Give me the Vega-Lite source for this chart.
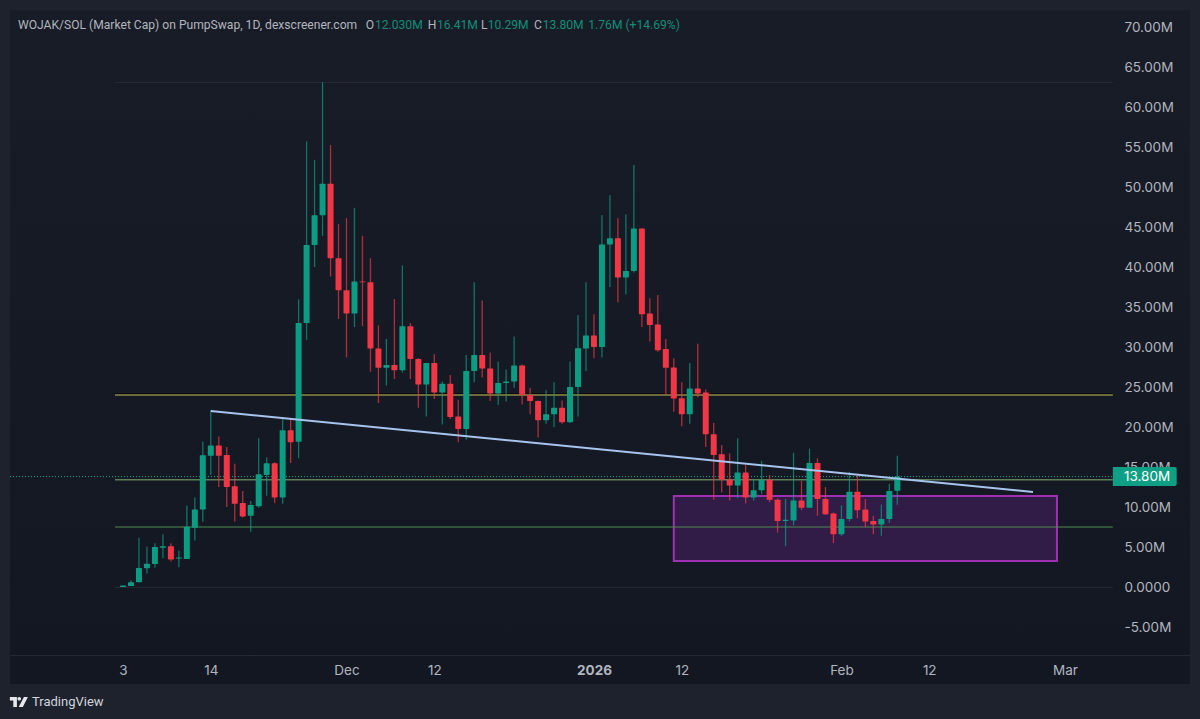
{
  "$schema": "https://vega.github.io/schema/vega-lite/v6.json",
  "autosize": "none",
  "width": 1180,
  "height": 674,
  "padding": {"left": 10, "top": 10, "right": 10, "bottom": 35},
  "background": "#1e222d",
  "view": {"stroke": null, "fill": {"gradient": "linear", "x1": 0, "y1": 0, "x2": 0, "y2": 1, "stops": [{"offset": 0, "color": "#181c27"}, {"offset": 1, "color": "#131722"}]}},
  "config": {"font": "Inter"},
  "resolve": {"scale": {"color": "independent"}},
  "datasets": {
    "candles": [
      {"d":"2025-11-03","o":0.0,"h":0.2,"l":0.0,"c":0.2},
      {"d":"2025-11-04","o":0.13,"h":0.83,"l":0.13,"c":0.59},
      {"d":"2025-11-05","o":0.59,"h":6.17,"l":0.59,"c":2.38},
      {"d":"2025-11-06","o":2.34,"h":5.04,"l":1.7,"c":2.9},
      {"d":"2025-11-07","o":2.88,"h":5.46,"l":2.4,"c":5.0},
      {"d":"2025-11-08","o":4.9,"h":6.6,"l":3.6,"c":5.1},
      {"d":"2025-11-09","o":5.1,"h":5.46,"l":3.2,"c":3.45},
      {"d":"2025-11-10","o":3.55,"h":4.54,"l":2.46,"c":3.7},
      {"d":"2025-11-11","o":3.5,"h":10.2,"l":3.5,"c":7.54},
      {"d":"2025-11-12","o":7.4,"h":11.2,"l":5.8,"c":9.7},
      {"d":"2025-11-13","o":9.7,"h":18.2,"l":8.16,"c":16.46},
      {"d":"2025-11-14","o":16.4,"h":22.1,"l":14.0,"c":17.7},
      {"d":"2025-11-15","o":17.7,"h":18.8,"l":12.5,"c":16.4},
      {"d":"2025-11-16","o":16.5,"h":17.5,"l":10.0,"c":12.5},
      {"d":"2025-11-17","o":12.6,"h":15.4,"l":8.2,"c":10.4},
      {"d":"2025-11-18","o":10.5,"h":12.0,"l":8.7,"c":8.8},
      {"d":"2025-11-19","o":8.9,"h":10.75,"l":6.9,"c":10.25},
      {"d":"2025-11-20","o":10.1,"h":18.6,"l":9.9,"c":14.1},
      {"d":"2025-11-21","o":14.0,"h":16.2,"l":11.4,"c":15.46},
      {"d":"2025-11-22","o":15.46,"h":15.6,"l":10.46,"c":11.2},
      {"d":"2025-11-23","o":11.2,"h":21.0,"l":10.4,"c":19.6},
      {"d":"2025-11-24","o":19.6,"h":21.1,"l":15.5,"c":18.1},
      {"d":"2025-11-25","o":18.16,"h":35.96,"l":16.1,"c":33.0},
      {"d":"2025-11-26","o":33.0,"h":55.7,"l":30.9,"c":42.75},
      {"d":"2025-11-27","o":42.75,"h":53.4,"l":40.0,"c":46.46},
      {"d":"2025-11-28","o":46.46,"h":63.1,"l":43.9,"c":50.4},
      {"d":"2025-11-29","o":50.4,"h":55.25,"l":38.8,"c":41.1},
      {"d":"2025-11-30","o":41.1,"h":45.4,"l":33.5,"c":37.1},
      {"d":"2025-12-01","o":37.1,"h":46.1,"l":28.7,"c":34.2},
      {"d":"2025-12-02","o":34.2,"h":47.4,"l":32.5,"c":38.2},
      {"d":"2025-12-03","o":38.2,"h":43.9,"l":32.6,"c":38.1},
      {"d":"2025-12-04","o":38.1,"h":41.1,"l":26.9,"c":29.8},
      {"d":"2025-12-05","o":29.8,"h":32.7,"l":23.0,"c":27.4},
      {"d":"2025-12-06","o":27.4,"h":31.0,"l":25.2,"c":27.75},
      {"d":"2025-12-07","o":27.75,"h":36.0,"l":26.0,"c":27.1},
      {"d":"2025-12-08","o":27.1,"h":40.2,"l":26.8,"c":32.6},
      {"d":"2025-12-09","o":32.6,"h":33.0,"l":26.0,"c":28.5},
      {"d":"2025-12-10","o":28.5,"h":28.6,"l":22.4,"c":25.3},
      {"d":"2025-12-11","o":25.3,"h":28.0,"l":21.3,"c":28.0},
      {"d":"2025-12-12","o":28.0,"h":29.1,"l":23.5,"c":24.3},
      {"d":"2025-12-13","o":24.3,"h":25.7,"l":20.3,"c":25.4},
      {"d":"2025-12-14","o":25.4,"h":26.5,"l":21.0,"c":21.25},
      {"d":"2025-12-15","o":21.3,"h":23.4,"l":18.1,"c":19.75},
      {"d":"2025-12-16","o":19.75,"h":29.0,"l":18.4,"c":27.0},
      {"d":"2025-12-17","o":27.0,"h":38.1,"l":25.6,"c":29.0},
      {"d":"2025-12-18","o":29.0,"h":35.8,"l":26.2,"c":27.3},
      {"d":"2025-12-19","o":27.3,"h":29.3,"l":23.25,"c":24.2},
      {"d":"2025-12-20","o":24.2,"h":28.2,"l":22.75,"c":25.5},
      {"d":"2025-12-21","o":25.5,"h":27.2,"l":23.2,"c":25.7},
      {"d":"2025-12-22","o":25.7,"h":31.3,"l":24.9,"c":27.7},
      {"d":"2025-12-23","o":27.7,"h":27.8,"l":22.8,"c":24.0},
      {"d":"2025-12-24","o":24.0,"h":24.9,"l":21.6,"c":23.25},
      {"d":"2025-12-25","o":23.25,"h":23.3,"l":18.7,"c":20.85},
      {"d":"2025-12-26","o":20.85,"h":24.6,"l":20.4,"c":21.6},
      {"d":"2025-12-27","o":21.6,"h":25.6,"l":20.0,"c":22.4},
      {"d":"2025-12-28","o":22.4,"h":23.3,"l":20.4,"c":20.6},
      {"d":"2025-12-29","o":20.6,"h":28.2,"l":20.5,"c":25.0},
      {"d":"2025-12-30","o":25.0,"h":34.0,"l":21.3,"c":29.85},
      {"d":"2025-12-31","o":29.8,"h":38.1,"l":27.0,"c":31.45},
      {"d":"2026-01-01","o":31.45,"h":34.1,"l":28.6,"c":30.0},
      {"d":"2026-01-02","o":30.0,"h":46.5,"l":28.7,"c":42.8},
      {"d":"2026-01-03","o":42.8,"h":49.0,"l":37.5,"c":43.6},
      {"d":"2026-01-04","o":43.6,"h":46.1,"l":35.6,"c":38.7},
      {"d":"2026-01-05","o":38.7,"h":46.6,"l":36.6,"c":39.5},
      {"d":"2026-01-06","o":39.5,"h":52.75,"l":39.3,"c":44.8},
      {"d":"2026-01-07","o":44.8,"h":44.8,"l":32.5,"c":34.1},
      {"d":"2026-01-08","o":34.2,"h":36.1,"l":30.7,"c":32.75},
      {"d":"2026-01-09","o":32.8,"h":36.5,"l":29.4,"c":29.6},
      {"d":"2026-01-10","o":29.75,"h":31.0,"l":24.0,"c":27.4},
      {"d":"2026-01-11","o":27.45,"h":28.6,"l":21.9,"c":23.55},
      {"d":"2026-01-12","o":23.6,"h":25.6,"l":20.1,"c":21.6},
      {"d":"2026-01-13","o":21.6,"h":28.0,"l":20.4,"c":24.8},
      {"d":"2026-01-14","o":24.8,"h":30.4,"l":23.7,"c":24.2},
      {"d":"2026-01-15","o":24.3,"h":24.7,"l":17.5,"c":19.1},
      {"d":"2026-01-16","o":19.1,"h":20.5,"l":10.9,"c":16.5},
      {"d":"2026-01-17","o":16.6,"h":17.75,"l":11.8,"c":13.4},
      {"d":"2026-01-18","o":13.4,"h":16.7,"l":10.8,"c":12.7},
      {"d":"2026-01-19","o":12.7,"h":18.6,"l":11.1,"c":14.3},
      {"d":"2026-01-20","o":14.3,"h":15.25,"l":10.45,"c":11.2},
      {"d":"2026-01-21","o":11.2,"h":13.4,"l":10.8,"c":12.1},
      {"d":"2026-01-22","o":12.1,"h":15.8,"l":11.6,"c":13.4},
      {"d":"2026-01-23","o":13.4,"h":14.0,"l":10.6,"c":10.9},
      {"d":"2026-01-24","o":10.9,"h":11.1,"l":6.8,"c":8.25},
      {"d":"2026-01-25","o":8.25,"h":11.0,"l":5.1,"c":8.4},
      {"d":"2026-01-26","o":8.3,"h":16.8,"l":7.7,"c":10.8},
      {"d":"2026-01-27","o":10.8,"h":13.25,"l":9.6,"c":9.9},
      {"d":"2026-01-28","o":9.9,"h":17.3,"l":9.9,"c":15.5},
      {"d":"2026-01-29","o":15.5,"h":16.1,"l":8.9,"c":11.0},
      {"d":"2026-01-30","o":11.0,"h":12.5,"l":9.0,"c":9.1},
      {"d":"2026-01-31","o":9.2,"h":9.3,"l":5.5,"c":6.6},
      {"d":"2026-02-01","o":6.6,"h":10.2,"l":6.4,"c":8.5},
      {"d":"2026-02-02","o":8.5,"h":14.4,"l":8.2,"c":11.9},
      {"d":"2026-02-03","o":11.9,"h":14.0,"l":8.6,"c":9.6},
      {"d":"2026-02-04","o":9.7,"h":11.0,"l":7.5,"c":8.2},
      {"d":"2026-02-05","o":8.25,"h":8.9,"l":6.6,"c":7.8},
      {"d":"2026-02-06","o":7.8,"h":10.3,"l":6.4,"c":8.5},
      {"d":"2026-02-07","o":8.5,"h":12.9,"l":8.0,"c":12.0},
      {"d":"2026-02-08","o":12.03,"h":16.41,"l":10.29,"c":13.8}
    ],
    "levels": [
      {"name":"grid top","start":"2025-11-02","end":"2026-03-07","price":63.06},
      {"name":"grid zero","start":"2025-11-02","end":"2026-03-07","price":-0.05},
      {"name":"halo","start":"2025-11-02","end":"2026-03-07","price":24.13},
      {"name":"resistance","start":"2025-11-02","end":"2026-03-07","price":24.0},
      {"name":"upper support","start":"2025-11-02","end":"2026-03-07","price":13.4},
      {"name":"lower support","start":"2025-11-02","end":"2026-03-07","price":7.5}
    ],
    "labels": [
      {"label":"WOJAK/SOL (Market Cap) on PumpSwap, 1D, dexscreener.com","at":"2025-10-20T20:24:00Z","price":70.25,"kind":"key"},
      {"label":"O","at":"2025-12-03T09:36:00Z","price":70.25,"kind":"key"},
      {"label":"12.030M","at":"2025-12-04T13:40:00Z","price":70.25,"kind":"value"},
      {"label":"H","at":"2025-12-11T04:00:00Z","price":70.25,"kind":"key"},
      {"label":"16.41M","at":"2025-12-12T08:00:00Z","price":70.25,"kind":"value"},
      {"label":"L","at":"2025-12-17T20:24:00Z","price":70.25,"kind":"key"},
      {"label":"10.29M","at":"2025-12-18T16:20:00Z","price":70.25,"kind":"value"},
      {"label":"C","at":"2025-12-24T11:30:00Z","price":70.25,"kind":"key"},
      {"label":"13.80M","at":"2025-12-25T13:40:00Z","price":70.25,"kind":"value"},
      {"label":"1.76M (+14.69%)","at":"2025-12-31T07:00:00Z","price":70.25,"kind":"value"}
    ]
  },
  "data": {"name": "candles"},
  "layer": [
    {
      "data": {"values": [{"start":"2026-01-11","end":"2026-02-28","top":11.375,"bottom":3.25}]},
      "mark": {"type": "rect", "fill": "#311c47", "stroke": "#9f30b4", "strokeWidth": 2},
      "encoding": {
        "x": {"field": "start", "type": "temporal", "scale": {"type": "utc", "padding": 0, "domain": ["2025-10-19T20:17:00Z", "2026-03-16T16:00:00Z"]},
          "axis": {
            "orient": "bottom", "offset": -29, "title": null, "grid": false, "ticks": false,
            "domainColor": "#262a35", "domainWidth": 1.2,
            "labelFont": "Inter", "labelFontSize": 13.5, "labelColor": "#b2b5be", "labelPadding": 8, "labelFlush": false, "labelOverlap": false,
            "values": [
              {"year":2025,"month":11,"date":3,"utc":true},
              {"year":2025,"month":11,"date":14,"utc":true},
              {"year":2025,"month":12,"date":1,"utc":true},
              {"year":2025,"month":12,"date":12,"utc":true},
              {"year":2026,"month":1,"date":1,"utc":true},
              {"year":2026,"month":1,"date":12,"utc":true},
              {"year":2026,"month":2,"date":1,"utc":true},
              {"year":2026,"month":2,"date":12,"utc":true},
              {"year":2026,"month":3,"date":1,"utc":true}
            ],
            "labelExpr": "utcdate(datum.value)==1 ? (utcmonth(datum.value)==0 ? utcFormat(datum.value,'%Y') : utcFormat(datum.value,'%b')) : utcFormat(datum.value,'%-d')",
            "labelFontWeight": {"condition": {"test": "utcdate(datum.value)==1 && utcmonth(datum.value)==0", "value": "bold"}, "value": "normal"}
          }
        },
        "x2": {"field": "end"},
        "y": {"field": "bottom", "type": "quantitative", "scale": {"domain": [-12.125, 72.125], "nice": false, "zero": false},
          "axis": {
            "orient": "right", "offset": -77, "title": null, "grid": false, "ticks": false, "domain": false,
            "labelFont": "Inter", "labelFontSize": 13.5, "labelColor": "#b2b5be", "labelPadding": 11, "labelFlush": false, "labelOverlap": false, "labelAlign": "left",
            "values": [-5,0,5,10,15,20,25,30,35,40,45,50,55,60,65,70],
            "labelExpr": "datum.value==0 ? '0.0000' : datum.value<0 ? '-'+format(abs(datum.value),'.2f')+'M' : format(datum.value,'.2f')+'M'"
          }
        },
        "y2": {"field": "top"}
      }
    },
    {
      "data": {"name": "levels"},
      "mark": {"type": "rule"},
      "encoding": {
        "x": {"field": "start", "type": "temporal"},
        "x2": {"field": "end"},
        "y": {"field": "price", "type": "quantitative"},
        "color": {"field": "name", "type": "nominal", "legend": null, "scale": {
          "domain": ["grid top","grid zero","halo","resistance","upper support","lower support"],
          "range": ["#262a35","#262a35","#000000","#8d8a45","#5c7f55","#4f8a4f"]}},
        "strokeWidth": {"field": "name", "type": "nominal", "legend": null, "scale": {
          "type": "ordinal",
          "domain": ["grid top","grid zero","halo","resistance","upper support","lower support"],
          "range": [1,1,1,1.3,1.6,1]}}
      }
    },
    {
      "data": {"values": [{"start":"2025-10-19T20:17:00Z","end":"2026-03-07","price":13.8}]},
      "mark": {"type": "rule", "color": "#1aa58c", "strokeWidth": 1, "strokeDash": [1, 2]},
      "encoding": {
        "x": {"field": "start", "type": "temporal"},
        "x2": {"field": "end"},
        "y": {"field": "price", "type": "quantitative"}
      }
    },
    {
      "mark": {"type": "rule", "strokeWidth": 1.3, "opacity": 0.7},
      "encoding": {
        "x": {"field": "d", "type": "temporal"},
        "y": {"field": "l", "type": "quantitative"},
        "y2": {"field": "h"},
        "color": {"condition": {"test": "datum.c >= datum.o", "value": "#0b9d83"}, "value": "#f23645"}
      }
    },
    {
      "mark": {"type": "bar", "width": 6, "cornerRadius": 0.5},
      "encoding": {
        "x": {"field": "d", "type": "temporal"},
        "y": {"field": "o", "type": "quantitative"},
        "y2": {"field": "c"},
        "color": {"condition": {"test": "datum.c >= datum.o", "value": "#0b9d83"}, "value": "#f23645"}
      }
    },
    {
      "data": {"values": [{"d":"2025-11-14","price":22.0},{"d":"2026-02-25","price":11.875}]},
      "mark": {"type": "line", "color": "#a6c4ee", "strokeWidth": 2},
      "encoding": {
        "x": {"field": "d", "type": "temporal"},
        "y": {"field": "price", "type": "quantitative"}
      }
    },
    {
      "data": {"values": [{"start":"2026-03-07","end":"2026-03-15","top":15.0,"bottom":12.625}]},
      "mark": {"type": "rect", "fill": "#0f9f84", "cornerRadiusTopRight": 2, "cornerRadiusBottomRight": 2},
      "encoding": {
        "x": {"field": "start", "type": "temporal"},
        "x2": {"field": "end"},
        "y": {"field": "bottom", "type": "quantitative"},
        "y2": {"field": "top"}
      }
    },
    {
      "data": {"values": [{"label":"13.80M","at":"2026-03-08T09:30:00Z","price":13.8}]},
      "mark": {"type": "text", "font": "Inter", "fontSize": 13.5, "align": "left", "baseline": "middle", "color": "#ffffff"},
      "encoding": {
        "x": {"field": "at", "type": "temporal"},
        "y": {"field": "price", "type": "quantitative"},
        "text": {"field": "label"}
      }
    },
    {
      "data": {"name": "labels"},
      "mark": {"type": "text", "font": "Roboto", "fontSize": 12.1, "align": "left", "baseline": "middle"},
      "encoding": {
        "x": {"field": "at", "type": "temporal"},
        "y": {"field": "price", "type": "quantitative"},
        "text": {"field": "label"},
        "color": {"field": "kind", "type": "nominal", "legend": null, "scale": {"domain": ["key","value"], "range": ["#b2b5be","#0e8f78"]}}
      }
    },
    {
      "data": {"values": [{"label":"TradingView","at":"2025-10-22T14:24:00Z","price":-14.375}]},
      "mark": {"type": "text", "font": "Roboto", "fontSize": 13, "align": "left", "baseline": "middle", "color": "#d1d4dc"},
      "encoding": {
        "x": {"field": "at", "type": "temporal"},
        "y": {"field": "price", "type": "quantitative"},
        "text": {"field": "label"}
      }
    },
    {
      "data": {"values": [{"at":"2025-10-20T23:00:00Z","price":-14.375}]},
      "mark": {"type": "point", "filled": true, "opacity": 1, "color": "#e6e8ee", "size": 324,
        "shape": "M-1 -0.56 H-0.22 V0.56 H-0.62 V-0.18 H-1 Z M0.04 -0.56 a0.2 0.2 0 1 0 0.001 0 Z M0.56 -0.56 H1 L0.44 0.56 H-0.02 Z"},
      "encoding": {
        "x": {"field": "at", "type": "temporal"},
        "y": {"field": "price", "type": "quantitative"}
      }
    }
  ]
}
